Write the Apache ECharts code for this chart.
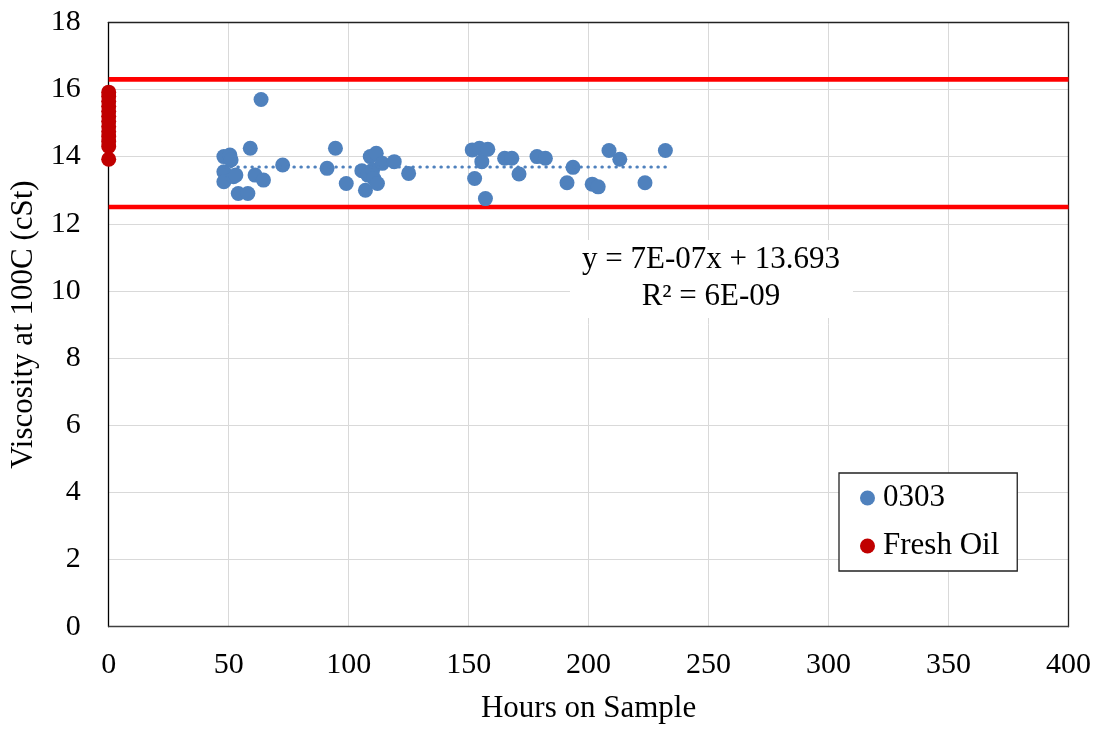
<!DOCTYPE html>
<html>
<head>
<meta charset="utf-8">
<script src="https://cdn.jsdelivr.net/npm/echarts@6/dist/echarts.min.js"></script>
<style>html,body{margin:0;padding:0;background:#fff}#c{width:1094px;height:730px}</style>
</head>
<body>
<div id="c"></div>
<script>
const hours0303 = [48.0,48.0,48.0,50.5,51.0,52.0,53.0,54.0,58.0,59.0,61.0,63.5,64.5,72.5,91.0,94.5,99.0,105.5,107.0,108.0,109.0,110.0,110.5,111.5,112.0,114.0,119.0,125.0,151.5,152.5,154.5,155.5,157.0,158.0,165.0,168.0,171.0,178.5,182.0,191.0,193.5,201.5,204.0,208.5,213.0,223.5,232.0];
const visc0303 = [14.0,13.55,13.25,14.05,13.9,13.4,13.45,12.9,12.9,14.25,13.45,15.7,13.3,13.75,13.65,14.25,13.2,13.58,13.0,13.45,14.0,13.6,13.35,14.1,13.2,13.8,13.85,13.5,14.2,13.35,14.25,13.85,12.75,14.22,13.95,13.95,13.48,14.0,13.95,13.22,13.68,13.18,13.1,14.18,13.92,13.22,14.18];
const freshHours = [0,0,0,0,0,0,0,0,0,0,0,0,0];
const freshVisc = [13.92,14.3,14.45,14.6,14.75,14.9,15.05,15.2,15.35,15.5,15.65,15.8,15.92];
const upperLimit = 16.3;
const lowerLimit = 12.5;
const trendSlope = 7e-7;
const trendIntercept = 13.693;
const xTicks = [0,50,100,150,200,250,300,350,400];
const yTicks = [0,2,4,6,8,10,12,14,16,18];
const eqText = ['y = 7E-07x + 13.693', 'R\u00B2 = 6E-09'];

const FONT = 'Liberation Serif, Times New Roman, serif';
const xMin = xTicks[0], xMax = xTicks[xTicks.length-1];
const yMin = yTicks[0], yMax = yTicks[yTicks.length-1];
const minH = Math.min(...hours0303), maxH = Math.max(...hours0303);
const trend = [[minH, trendIntercept + trendSlope*minH],[maxH, trendIntercept + trendSlope*maxH]];

const borderAxis = (extra) => Object.assign({
  type:'value', axisTick:{show:false}, axisLabel:{show:false}, splitLine:{show:false},
  axisLine:{show:true, onZero:false, lineStyle:{color:'#222', width:1.3}}
}, extra);

const chart = echarts.init(document.getElementById('c'), null, {renderer:'canvas'});
chart.setOption({
  animation:false,
  backgroundColor:'#fff',
  grid:{left:108.7, right:23.7, top:22.3, bottom:103.3, show:false},
  xAxis:[{
    type:'value', min:xMin, max:xMax, interval:50,
    name:'Hours on Sample', nameLocation:'middle', nameGap:67,
    nameTextStyle:{fontFamily:FONT, fontSize:31, color:'#000'},
    axisLine:{lineStyle:{color:'#404040', width:1.3}},
    axisTick:{show:false},
    axisLabel:{fontFamily:FONT, fontSize:30, color:'#000', margin:23},
    splitLine:{lineStyle:{color:'#d9d9d9', width:1}}
  }, borderAxis({position:'top', min:xMin, max:xMax})],
  yAxis:[{
    type:'value', min:yMin, max:yMax, interval:2,
    name:'Viscosity at 100C (cSt)', nameLocation:'middle', nameGap:64,
    nameTextStyle:{fontFamily:FONT, fontSize:31, color:'#000'},
    axisLine:{show:true, lineStyle:{color:'#000', width:1.3}},
    axisTick:{show:false},
    axisLabel:{fontFamily:FONT, fontSize:30, color:'#000', margin:28},
    splitLine:{lineStyle:{color:'#d9d9d9', width:1}}
  }, borderAxis({position:'right', min:yMin, max:yMax})],
  legend:{
    data:['0303','Fresh Oil'],
    orient:'vertical', left:839, top:473,
    padding:[8,18,8,21],
    backgroundColor:'#fff',
    borderColor:'#222', borderWidth:1.3,
    itemWidth:15, itemHeight:15, itemGap:14, icon:'circle',
    textStyle:{fontFamily:FONT, fontSize:31, color:'#000', lineHeight:34, padding:[0,0,0,3]}
  },
  series:[
    {name:'upper', type:'line', data:[[xMin,upperLimit],[xMax,upperLimit]], symbol:'none', lineStyle:{color:'#ff0000', width:4.6}, z:3, silent:true},
    {name:'lower', type:'line', data:[[xMin,lowerLimit],[xMax,lowerLimit]], symbol:'none', lineStyle:{color:'#ff0000', width:4.6}, z:3, silent:true},
    {name:'0303', type:'scatter', data:hours0303.map((h,i)=>[h,visc0303[i]]), symbol:'circle', symbolSize:15, itemStyle:{color:'#4f81bd', opacity:1}, z:4},
    {name:'trend', type:'line', data:trend, symbol:'none', lineStyle:{color:'#4f81bd', width:3, type:[0.5,6.5], cap:'round'}, z:5, silent:true},
    {name:'Fresh Oil', type:'scatter', data:freshHours.map((h,i)=>[h,freshVisc[i]]), symbol:'circle', symbolSize:15, itemStyle:{color:'#c00000', opacity:1}, z:6, clip:false}
  ],
  graphic:[
    {type:'rect', left:570, top:240, shape:{width:283, height:78}, style:{fill:'#fff'}, z:10},
    {type:'text', x:711, y:260, style:{text:eqText[0], font:'31px '+FONT, fill:'#000', textAlign:'center', textVerticalAlign:'middle'}, z:11},
    {type:'text', x:711, y:297, style:{text:eqText[1], font:'31px '+FONT, fill:'#000', textAlign:'center', textVerticalAlign:'middle'}, z:11}
  ]
});
</script>
</body>
</html>
